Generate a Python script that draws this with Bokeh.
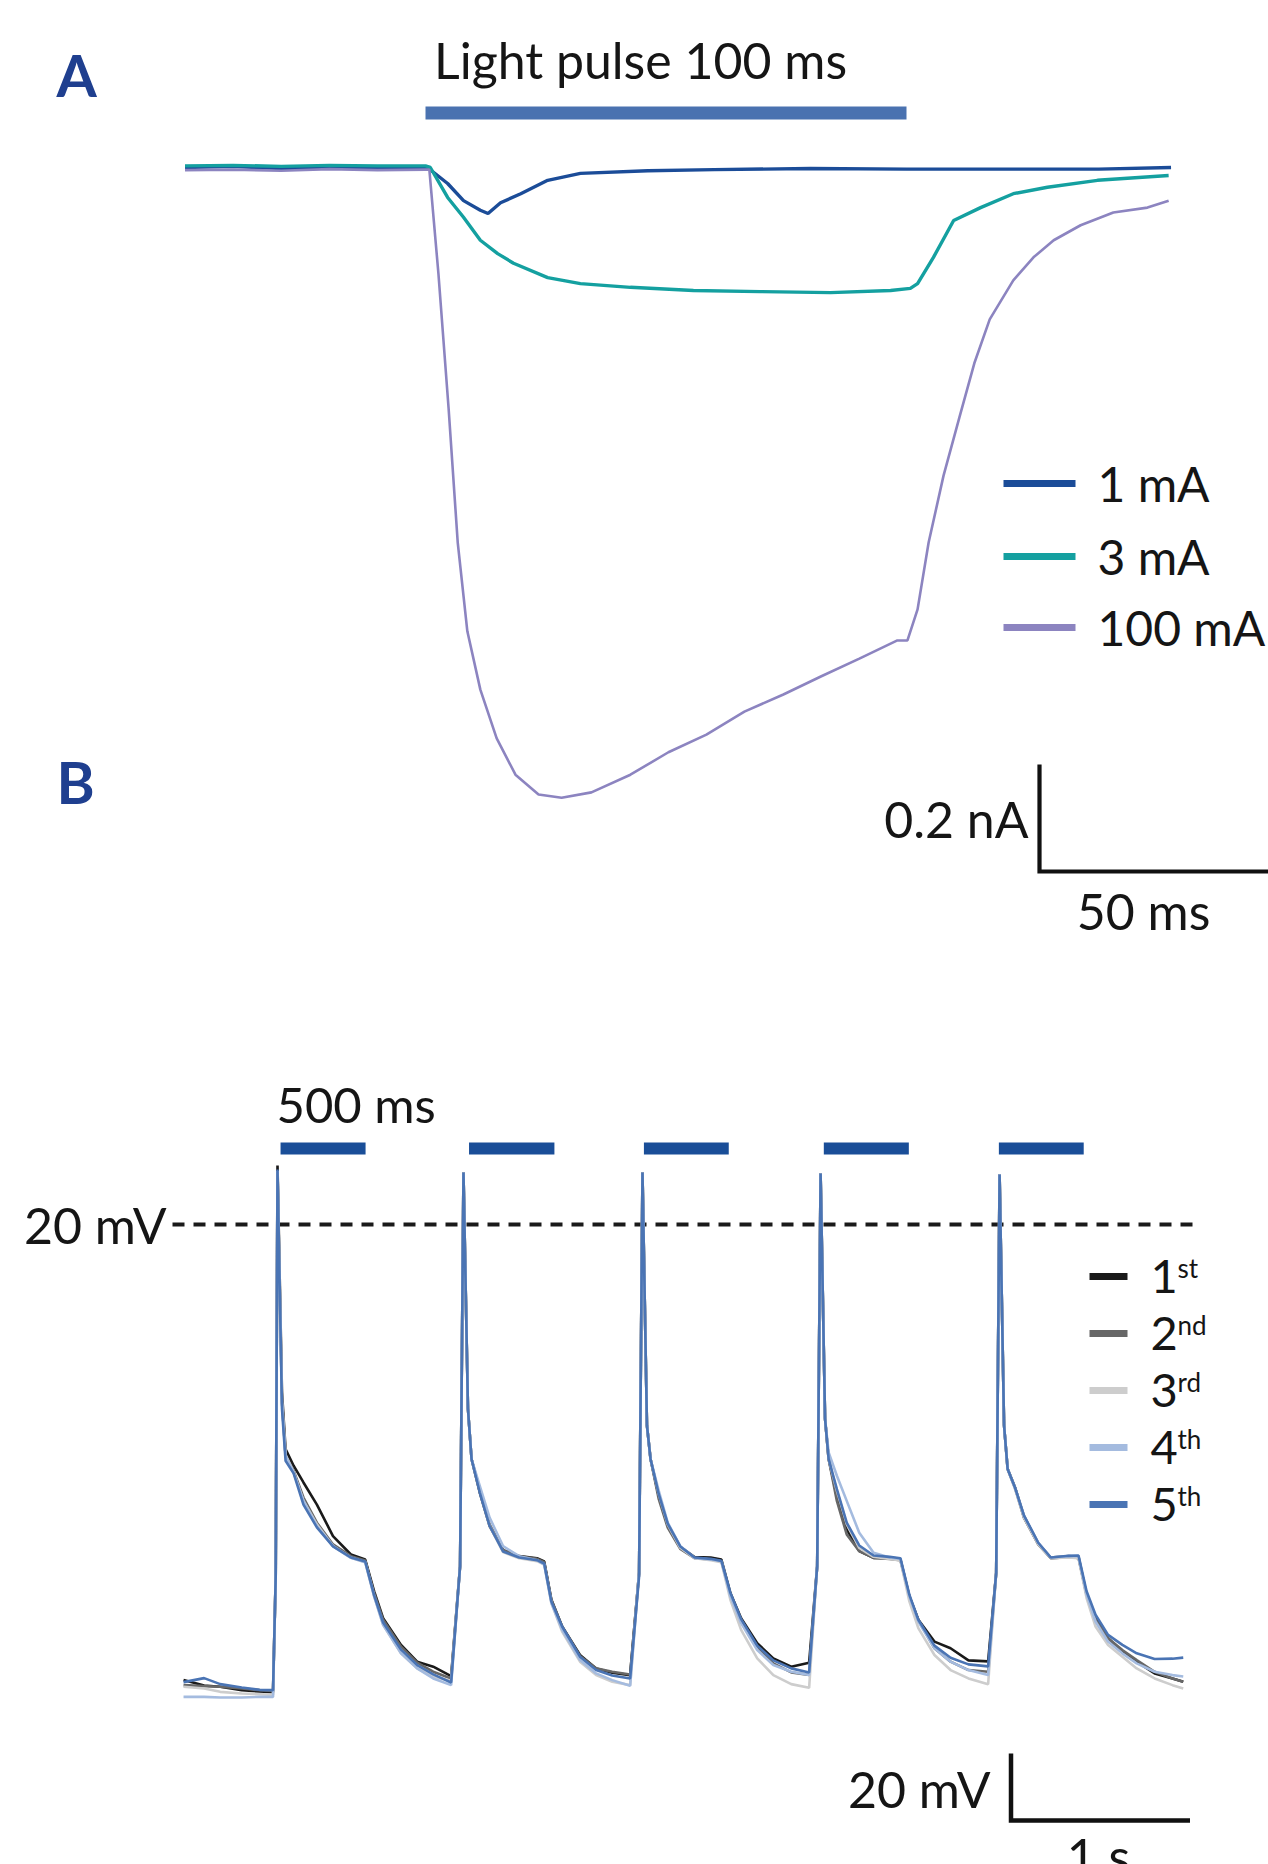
from bokeh.plotting import figure
from bokeh.layouts import column
from bokeh.models import Range1d
from bokeh.core.properties import value
from bokeh.embed import file_html
from bokeh.resources import INLINE

FONT = "Lato"
TXT = "#151515"
LABEL_BLUE = "#1f3f8f"

# ---------------- Panel A data (time in ms, current in nA) ----------------
light_on_ms = 0.0
light_off_ms = 100.0

t_1mA = [-50, -40, -30, -20, -10, 0, 0.4, 4.6, 7.9, 11.4, 13.0, 15.6, 19.8, 25.4,
         32.2, 46.2, 60, 80, 100, 120, 140, 155]
i_1mA = [0.0, 0.002, -0.002, 0.001, -0.001, 0.0, 0.0, -0.030, -0.062, -0.080, -0.086,
         -0.066, -0.049, -0.024, -0.011, -0.006, -0.004, -0.002, -0.003, -0.003, -0.003, 0.0]

t_3mA = [-50, -40, -30, -20, -10, 0, 1.0, 4.6, 7.9, 11.4, 15.0, 18.3, 25.4, 32.2, 42.6,
         55.7, 69.6, 84.2, 96.7, 100.8, 102.3, 105.6, 109.8, 115.4, 122.2, 129.3, 139.7, 154.5]
i_3mA = [0.003, 0.004, 0.002, 0.004, 0.003, 0.003, 0.0, -0.056, -0.093, -0.136, -0.161,
         -0.179, -0.206, -0.217, -0.224, -0.230, -0.232, -0.234, -0.230, -0.226, -0.217,
         -0.168, -0.099, -0.075, -0.049, -0.037, -0.024, -0.015]

t_100mA = [-50, -40, -30, -20, -10, 0, 0.8, 2.7, 4.8, 6.7, 8.7, 11.4, 14.8, 18.7, 23.5,
           28.3, 34.5, 42.6, 50.5, 58.4, 66.3, 74.4, 82.3, 90.2, 98.1, 100.2, 102.3, 104.6,
           107.7, 111.0, 114.1, 117.3, 122.2, 126.4, 130.6, 136.2, 143.0, 150.1, 154.5]
i_100mA = [-0.005, -0.004, -0.006, -0.003, -0.005, -0.004, -0.004, -0.200, -0.450, -0.701,
           -0.867, -0.976, -1.067, -1.135, -1.172, -1.178, -1.168, -1.135, -1.093, -1.060,
           -1.017, -0.985, -0.951, -0.918, -0.884, -0.884, -0.826, -0.701, -0.576, -0.467,
           -0.366, -0.284, -0.211, -0.168, -0.136, -0.108, -0.084, -0.075, -0.062]

legend_a = ["1 mA", "3 mA", "100 mA"]
colors_a = ["#1b4c98", "#14a0a0", "#8c84c0"]

scale_a_ms = 50
scale_a_na = 0.2

# ---------------- Panel B data (time in s, voltage in mV) ----------------
stim_on_s = [0.017, 1.07, 2.047, 3.052, 4.03]
stim_off_s = [0.492, 1.547, 2.521, 3.527, 4.504]
ref_mv = 20

t_b = [
    -0.525, -0.41, -0.32, -0.2, -0.1, -0.025, -0.01,
    0.0, 0.025, 0.045, 0.09, 0.145, 0.22, 0.31, 0.41, 0.49, 0.54, 0.59, 0.69, 0.78, 0.87, 0.97, 1.02,
    1.039, 1.064, 1.084, 1.13, 1.185, 1.26, 1.35, 1.45, 1.49, 1.53, 1.59, 1.69, 1.78, 1.87, 1.97, 2.02,
    2.039, 2.064, 2.084, 2.13, 2.18, 2.25, 2.33, 2.42, 2.48, 2.53, 2.59, 2.68, 2.77, 2.87, 2.97, 3.015,
    3.034, 3.059, 3.079, 3.125, 3.18, 3.25, 3.33, 3.42, 3.48, 3.53, 3.58, 3.67, 3.76, 3.86, 3.97, 4.015,
    4.034, 4.059, 4.079, 4.12, 4.17, 4.25, 4.32, 4.42, 4.475, 4.52, 4.57, 4.64, 4.72, 4.80, 4.90, 5.0, 5.06,
]

v_1st = [
    -116.0, -117.6, -118.0, -119.0, -119.4, -119.6, -85.0,
    37.6, -30.0, -47.0, -52.0, -57.0, -63.6, -73.0, -78.5, -80.0, -89.5, -97.5, -105.5, -110.5, -112.0, -114.8, -82.0,
    35.5, -35.0, -50.0, -60.0, -70.0, -77.2, -79.0, -79.6, -80.6, -92.0, -100.0, -108.5, -112.5, -113.8, -114.5, -84.0,
    35.5, -40.0, -50.0, -61.0, -69.5, -76.2, -79.3, -79.4, -80.0, -90.0, -97.5, -105.0, -109.5, -112.0, -110.8, -82.0,
    35.2, -38.0, -50.0, -61.0, -71.0, -77.5, -79.5, -79.5, -80.0, -91.0, -98.0, -104.5, -106.5, -110.1, -110.4, -84.0,
    35.0, -40.0, -53.0, -58.5, -67.5, -75.5, -79.6, -79.3, -79.5, -90.5, -97.5, -103.5, -107.5, -110.5, -114.0, -115.5, -116.5,
]
v_2nd = [
    -117.5, -117.8, -118.0, -118.5, -119.0, -119.2, -85.0,
    36.0, -33.0, -49.0, -53.5, -61.5, -69.0, -75.5, -79.0, -80.3, -90.0, -98.0, -106.0, -110.8, -113.5, -115.5, -82.0,
    35.5, -35.0, -50.0, -59.0, -69.5, -77.2, -79.0, -79.8, -80.8, -92.0, -100.0, -108.8, -112.5, -113.5, -114.3, -84.0,
    35.5, -40.0, -50.0, -62.0, -70.5, -76.8, -79.6, -80.0, -80.6, -90.5, -98.0, -106.0, -111.0, -113.7, -114.5, -82.0,
    35.2, -38.0, -50.0, -62.5, -72.5, -77.5, -79.5, -79.8, -80.2, -91.0, -98.0, -106.5, -110.5, -113.0, -113.5, -84.0,
    35.0, -40.0, -53.0, -58.5, -67.0, -75.2, -79.4, -79.0, -79.2, -90.5, -98.0, -103.5, -107.0, -110.0, -113.5, -115.5, -116.5,
]
v_3rd = [
    -118.0, -118.5, -119.5, -120.0, -120.2, -120.4, -85.0,
    36.0, -33.0, -49.0, -54.0, -62.5, -69.5, -76.0, -79.5, -80.8, -91.0, -99.5, -108.0, -112.5, -115.0, -116.2, -82.0,
    35.5, -35.0, -50.0, -59.5, -70.0, -77.8, -79.6, -80.5, -81.5, -93.0, -101.5, -110.5, -114.5, -116.5, -117.5, -84.0,
    35.5, -40.0, -50.0, -60.5, -69.5, -76.5, -79.6, -80.2, -80.8, -92.0, -101.0, -109.5, -114.5, -117.2, -118.3, -82.0,
    35.2, -38.0, -50.0, -59.5, -69.5, -76.5, -79.2, -79.8, -80.3, -92.5, -100.5, -108.5, -113.0, -115.5, -117.2, -84.0,
    35.0, -40.0, -53.0, -59.0, -67.5, -75.5, -79.6, -79.4, -79.6, -91.5, -100.0, -105.5, -109.0, -112.5, -115.5, -117.5, -118.5,
]
v_4th = [
    -121.0, -121.0, -121.2, -121.2, -121.0, -121.0, -85.0,
    36.0, -33.0, -49.0, -54.0, -62.5, -70.0, -76.0, -79.5, -80.8, -91.0, -99.5, -108.0, -112.5, -115.5, -117.5, -82.0,
    35.5, -35.0, -50.0, -58.0, -67.5, -76.0, -79.0, -80.2, -81.5, -93.0, -101.0, -110.0, -114.0, -116.0, -117.7, -84.0,
    35.5, -40.0, -50.0, -59.5, -69.0, -76.0, -79.5, -80.0, -80.5, -91.0, -99.0, -107.0, -111.5, -113.5, -114.5, -82.0,
    35.2, -38.0, -48.0, -55.0, -62.5, -72.0, -78.0, -79.4, -79.8, -91.0, -98.5, -106.5, -110.5, -113.0, -114.5, -84.0,
    35.0, -40.0, -53.0, -58.5, -67.0, -75.0, -79.4, -79.0, -79.0, -90.5, -98.5, -104.5, -108.0, -111.0, -113.5, -114.5, -114.9,
]
v_5th = [
    -116.6, -115.4, -117.2, -118.2, -118.9, -119.0, -85.0,
    36.4, -35.0, -50.5, -54.3, -63.6, -70.4, -76.1, -79.4, -80.6, -90.7, -98.8, -106.9, -111.5, -114.3, -116.7, -82.0,
    35.5, -35.0, -50.0, -60.0, -70.0, -77.6, -79.4, -80.2, -81.2, -92.5, -100.0, -109.0, -113.0, -114.6, -115.5, -85.0,
    35.5, -40.0, -50.0, -60.5, -69.3, -76.1, -79.4, -79.8, -80.4, -89.9, -97.8, -105.7, -110.1, -112.5, -113.7, -82.0,
    35.2, -38.0, -50.0, -59.0, -69.0, -75.8, -78.8, -79.2, -79.6, -90.5, -98.0, -105.7, -109.3, -111.3, -111.9, -84.0,
    34.9, -40.0, -53.0, -58.5, -66.8, -75.0, -79.4, -78.9, -78.8, -89.5, -96.5, -102.5, -105.5, -108.0, -109.7, -109.6, -109.3,
]

legend_b_num = ["1", "2", "3", "4", "5"]
legend_b_suf = ["st", "nd", "rd", "th", "th"]
colors_b = ["#1a1a1a", "#676767", "#cdcdcd", "#a4bbdf", "#4a74b4"]
traces_b = [v_1st, v_2nd, v_3rd, v_4th, v_5th]

scale_b_s = 1
scale_b_mv = 20

# ---------------- layout geometry ----------------
W = 1268
HA, HB = 968, 896
XA = (-88.36, 175.26)
YA = (-1.4972, 0.3121)
XB = (-1.5475, 5.5363)
YB = (-171.04, 96.42)


def make_fig(h, xr, yr):
    p = figure(width=W, height=h, x_range=Range1d(*xr), y_range=Range1d(*yr),
               output_backend="svg", toolbar_location=None, min_border=0,
               x_axis_location=None, y_axis_location=None,
               outline_line_color=None, background_fill_color="white",
               border_fill_color="white")
    p.xgrid.visible = False
    p.ygrid.visible = False
    return p


# page-pixel -> data helpers (for annotation placement only)
def ax(px):
    return XA[0] + px * (XA[1] - XA[0]) / W


def ay(py):
    return YA[1] - py * (YA[1] - YA[0]) / HA


def bx(px):
    return XB[0] + px * (XB[1] - XB[0]) / W


def by(py):
    return YB[1] - (py - HA) * (YB[1] - YB[0]) / HB


def txt(p, xs, ys, texts, size="50px", align="left", color=TXT, style="normal"):
    p.text(x=xs, y=ys, text=texts, text_font=value(FONT), text_font_size=size,
           text_align=align, text_baseline="middle", text_color=color,
           text_font_style=style)


# ================= Panel A =================
pa = make_fig(HA, XA, YA)

pa.quad(left=[light_on_ms], right=[light_off_ms], top=[ay(106)], bottom=[ay(119)],
        fill_color="#4a72b0", line_color=None)

pa.line(t_1mA, i_1mA, line_width=3.4, color=colors_a[0])
pa.line(t_3mA, i_3mA, line_width=3.4, color=colors_a[1])
pa.line(t_100mA, i_100mA, line_width=2.6, color=colors_a[2])

# legend A
leg_y_a = [483, 556, 627]
for yy, c in zip(leg_y_a, colors_a):
    pa.segment(x0=[ax(1003)], x1=[ax(1075)], y0=[ay(yy)], y1=[ay(yy)],
               line_width=7, color=c)
txt(pa, [ax(1097)] * 3, [ay(yy) for yy in leg_y_a], legend_a, size="48px")

# scale bar A
sx, sy = ax(1039), ay(871)
pa.line([sx, sx, sx + scale_a_ms], [sy + scale_a_na, sy, sy], line_width=4.2,
        color="#111111", line_join="miter")
txt(pa, [ax(1028)], [ay(818)], ["0.2 nA"], align="right")
txt(pa, [ax(1143)], [ay(910)], ["50 ms"], align="center")

# headings
txt(pa, [ax(640)], [ay(59)], ["Light pulse 100 ms"], size="50px", align="center")
txt(pa, [ax(56)], [ay(74)], ["A"], size="58px", color=LABEL_BLUE, style="bold")
txt(pa, [ax(56)], [ay(781)], ["B"], size="58px", color=LABEL_BLUE, style="bold")

# ================= Panel B =================
pb = make_fig(HB, XB, YB)

pb.quad(left=stim_on_s, right=stim_off_s, top=[by(1142)] * 5, bottom=[by(1154)] * 5,
        fill_color="#1a4e98", line_color=None)

pb.line([bx(172), bx(1200)], [ref_mv, ref_mv], line_width=4, color="#1a1a1a",
        line_dash="12 9")

for v, c in zip(traces_b, colors_b):
    pb.line(t_b, v, line_width=2.6, color=c)

# legend B
leg_y_b = [1276, 1333, 1390, 1447, 1504]
for yy, c in zip(leg_y_b, colors_b):
    pb.segment(x0=[bx(1089)], x1=[bx(1127)], y0=[by(yy)], y1=[by(yy)],
               line_width=7, color=c)
txt(pb, [bx(1150)] * 5, [by(yy) for yy in leg_y_b], legend_b_num, size="47px")
txt(pb, [bx(1177)] * 5, [by(yy - 9) for yy in leg_y_b], legend_b_suf, size="26px")

txt(pb, [bx(276)], [by(1103)], ["500 ms"], size="49px")
txt(pb, [bx(166)], [by(1224)], ["20 mV"], size="50px", align="right")

# scale bar B
qx, qy = bx(1010.5), by(1820)
pb.line([qx, qx, qx + scale_b_s], [qy + scale_b_mv, qy, qy], line_width=4.5,
        color="#111111", line_join="miter")
txt(pb, [bx(990)], [by(1788)], ["20 mV"], align="right")
txt(pb, [bx(1098)], [by(1855)], ["1 s"], align="center")

layout = column(pa, pb, spacing=0)
open("out.html", "w").write(file_html(layout, INLINE))
